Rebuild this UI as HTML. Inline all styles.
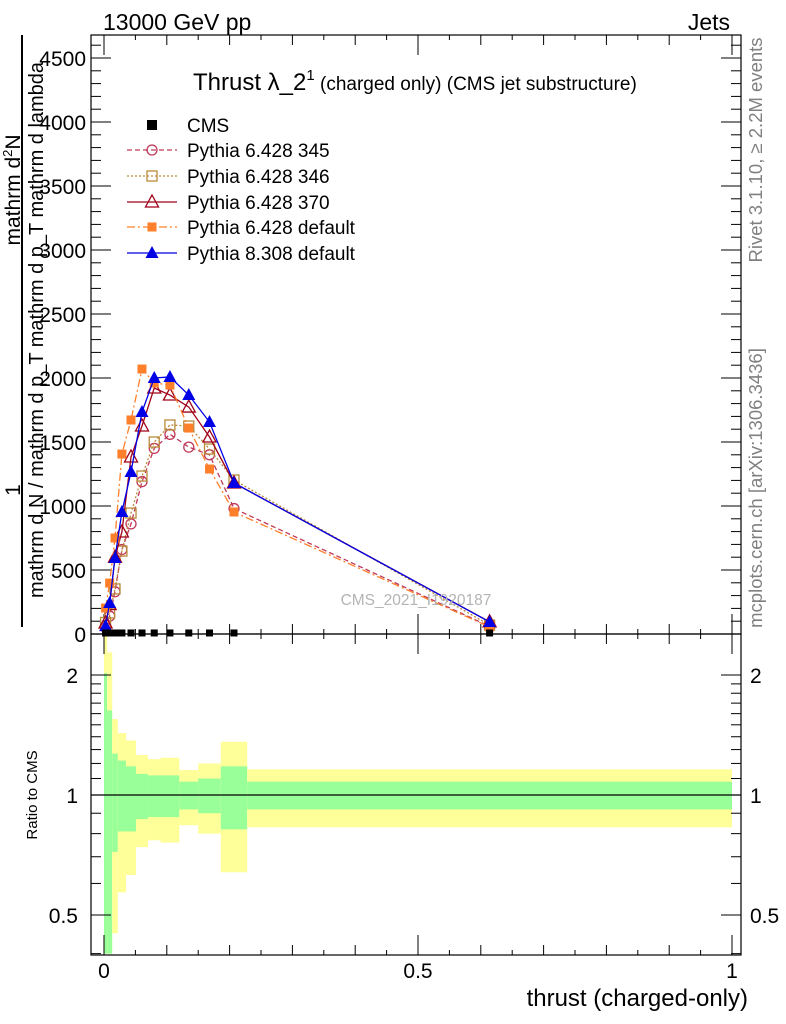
<!DOCTYPE html>
<html><head><meta charset="utf-8"><style>
html,body{margin:0;padding:0;background:#fff}
svg{display:block;font-family:"Liberation Sans",sans-serif}
</style></head><body>
<svg id="chart" width="786" height="1024" viewBox="0 0 786 1024">
<g id="ratio-bands"></g>
<g id="axes"></g>
<g id="series"></g>
<text x="103" y="30" font-size="23">13000 GeV pp</text>
<text x="730" y="30" font-size="23" text-anchor="end">Jets</text>
<text x="193" y="90" font-size="24">Thrust λ_2<tspan font-size="15" dy="-10">1</tspan><tspan font-size="19" dy="10"> (charged only) (CMS jet substructure)</tspan></text>
<text x="416" y="605" font-size="15.5" fill="#b4b4b4" text-anchor="middle">CMS_2021_I1920187</text>
<text transform="translate(762,150) rotate(-90)" font-size="18.5" fill="#808080" text-anchor="middle">Rivet 3.1.10, ≥ 2.2M events</text>
<text transform="translate(762,488) rotate(-90)" font-size="18.5" fill="#808080" text-anchor="middle">mcplots.cern.ch [arXiv:1306.3436]</text>
<text x="748" y="1006" font-size="24" text-anchor="end">thrust (charged-only)</text>
<text transform="translate(37,795) rotate(-90)" font-size="15" text-anchor="middle">Ratio to CMS</text>
<text transform="translate(20,190) rotate(-90)" font-size="21" text-anchor="middle">mathrm d<tspan font-size="13" dy="-8">2</tspan><tspan dy="8">N</tspan></text>
<line x1="22" y1="35" x2="22" y2="627" stroke="#000" stroke-width="2"/>
<text transform="translate(20,490) rotate(-90)" font-size="21" text-anchor="middle">1</text>
<text transform="translate(43,330) rotate(-90)" font-size="20" text-anchor="middle">mathrm d N / mathrm d p_T mathrm d p_T mathrm d lambda</text>
<g id="legend"></g>
</svg>
<script>
// ---- data ----
const binEdges = [0, 0.005, 0.013, 0.022, 0.035, 0.051, 0.07, 0.09, 0.12, 0.15, 0.186, 0.228, 1.0];
const cmsValues = [8, 8, 8, 8, 8, 8, 8, 8, 8, 8, 8, 8];
const p345Values = [50, 140, 330, 660, 860, 1190, 1450, 1560, 1460, 1400, 980, 60];
const p346Values = [90, 164, 352, 648, 945, 1234, 1500, 1633, 1625, 1445, 1203, 70];
const p370Values = [86, 230, 600, 797, 1383, 1625, 1922, 1867, 1773, 1539, 1180, 95];
const p6defValues = [203, 398, 750, 1406, 1672, 2070, 1961, 1945, 1609, 1289, 953, 55];
const p8defValues = [62, 242, 594, 953, 1266, 1734, 2000, 2008, 1867, 1656, 1180, 94];
const yellowUp = [2.52, 2.28, 1.55, 1.43, 1.37, 1.26, 1.23, 1.24, 1.155, 1.2, 1.36, 1.16];
const greenUp = [2.02, 1.63, 1.27, 1.22, 1.18, 1.13, 1.12, 1.12, 1.08, 1.1, 1.18, 1.08];
const greenDown = [0.4, 0.4, 0.72, 0.81, 0.81, 0.87, 0.88, 0.88, 0.92, 0.9, 0.82, 0.92];
const yellowDown = [0.4, 0.4, 0.45, 0.57, 0.63, 0.74, 0.77, 0.76, 0.84, 0.80, 0.64, 0.83];
const yTickLabels = ["0","500","1000","1500","2000","2500","3000","3500","4000","4500"];
const xTickLabels = ["0","0.5","1"];
const ratioTickLabels = ["0.5","1","2"];

// ---- axes functions ----
const L=91,R=741,T=35,MB=634,RB=955;
const X = v => 104 + v*628;
const Y = v => 634 - v*64/500;
const RY = r => 795 - 120*Math.log2(r);
const NS="http://www.w3.org/2000/svg";
function mk(tag, attrs, parent){const e=document.createElementNS(NS,tag);for(const k in attrs)e.setAttribute(k,attrs[k]);parent.appendChild(e);return e;}

const rb=document.getElementById('ratio-bands');
const clampR = y => Math.max(635, Math.min(955, y));
for(let i=0;i<binEdges.length-1;i++){
  const x0=Math.max(X(binEdges[i]),L+12), x1=X(binEdges[i+1]);
  const y1=mk('rect',{x:x0,y:clampR(RY(yellowUp[i])),width:x1-x0,height:clampR(RY(yellowDown[i]))-clampR(RY(yellowUp[i])),fill:'#ffff99'},rb);
  
  
  const g1=mk('rect',{x:x0,y:clampR(RY(greenUp[i])),width:x1-x0,height:clampR(RY(greenDown[i]))-clampR(RY(greenUp[i])),fill:'#99ff99'},rb);
  
  
}
const ax=document.getElementById('axes');
mk('line',{x1:L,y1:RY(1),x2:R,y2:RY(1),stroke:'#000','stroke-width':1.2},ax);
mk('rect',{x:L,y:T,width:R-L,height:MB-T,fill:'none',stroke:'#000','stroke-width':1.2},ax);
mk('rect',{x:L,y:MB,width:R-L,height:RB-MB,fill:'none',stroke:'#000','stroke-width':1.2},ax);
for(let v=0;v<=4600;v+=100){const y=Y(v);if(y<T)continue;const len=v%500===0?20:10;
  mk('line',{x1:L,y1:y,x2:L+len,y2:y,stroke:'#000'},ax);mk('line',{x1:R,y1:y,x2:R-len,y2:y,stroke:'#000'},ax);}
yTickLabels.forEach((s,i)=>{const t=mk('text',{x:86,y:Y(i*500)+8,'font-size':21,'text-anchor':'end'},ax);t.textContent=s;
  
  });
for(let k=0;k<=20;k++){const v=k*0.05,x=X(v);const len=k%10===0?20:(k%2===0?10:5);
  [MB,RB].forEach(b=>{mk('line',{x1:x,y1:b,x2:x,y2:b-len,stroke:'#000'},ax);});
  mk('line',{x1:x,y1:T,x2:x,y2:T+len,stroke:'#000'},ax);mk('line',{x1:x,y1:MB,x2:x,y2:MB+len,stroke:'#000'},ax);}
xTickLabels.forEach((s,i)=>{const t=mk('text',{x:X(i*0.5),y:978,'font-size':21,'text-anchor':'middle'},ax);t.textContent=s;
  
  });
[0.4,0.5,0.6,0.7,0.8,0.9,1,1.1,1.2,1.3,1.4,1.5,1.6,1.7,1.8,1.9,2].forEach(r=>{const y=RY(r);if(y>RB||y<MB)return;
  const len=(r===0.5||r===1||r===2)?20:10;mk('line',{x1:L,y1:y,x2:L+len,y2:y,stroke:'#000'},ax);mk('line',{x1:R,y1:y,x2:R-len,y2:y,stroke:'#000'},ax);});
ratioTickLabels.forEach(s=>{const r=parseFloat(s);
  const t=mk('text',{x:78,y:RY(r)+8,'font-size':21,'text-anchor':'end'},ax);t.textContent=s;
  
  
  const t2=mk('text',{x:750,y:RY(r)+8,'font-size':21},ax);t2.textContent=s;
  
  });

const sg=document.getElementById('series');
const centers=binEdges.slice(0,-1).map((e,i)=>(e+binEdges[i+1])/2);
function marker(type,x,y,color,parent){
  if(type==='circle')return mk('circle',{cx:x,cy:y,r:5,fill:'none',stroke:color,'stroke-width':1.3},parent);
  if(type==='osq')return mk('rect',{x:x-5,y:y-5,width:10,height:10,fill:'none',stroke:color,'stroke-width':1.3},parent);
  if(type==='fsq')return mk('rect',{x:x-4.5,y:y-4.5,width:9,height:9,fill:color},parent);
  if(type==='csq')return mk('rect',{x:x-3.5,y:y-3.5,width:7,height:7,fill:color},parent);
  if(type==='otri')return mk('path',{d:`M${x} ${y-7}L${x+6.5} ${y+5}L${x-6.5} ${y+5}Z`,fill:'none',stroke:color,'stroke-width':1.3},parent);
  if(type==='ftri')return mk('path',{d:`M${x} ${y-7}L${x+6.5} ${y+5}L${x-6.5} ${y+5}Z`,fill:color},parent);
}
const seriesList=[
 {name:'pythia-6428-345',label:'Pythia 6.428 345',vals:p345Values,color:'#c0395a',dash:'5,3',m:'circle'},
 {name:'pythia-6428-346',label:'Pythia 6.428 346',vals:p346Values,color:'#b88a3a',dash:'2,2',m:'osq'},
 {name:'pythia-6428-370',label:'Pythia 6.428 370',vals:p370Values,color:'#a00018',dash:'',m:'otri'},
 {name:'pythia-6428-default',label:'Pythia 6.428 default',vals:p6defValues,color:'#ff7f2a',dash:'8,3,2,3',m:'fsq'},
 {name:'pythia-8308-default',label:'Pythia 8.308 default',vals:p8defValues,color:'#0000e6',dash:'',m:'ftri'}];
seriesList.forEach(s=>{
  const g=mk('g',{},sg);
  
  
  const pts=s.vals.map((v,i)=>X(centers[i])+','+Y(v)).join(' ');
  const pl=mk('polyline',{points:pts,fill:'none',stroke:s.color,'stroke-width':1.3,'stroke-dasharray':s.dash},g);
  
  
  s.vals.forEach((v,i)=>{
    const m=marker(s.m,X(centers[i]),Y(v),s.color,g);
    
    });
});
const cg=mk('g',{},sg);


cmsValues.forEach((v,i)=>{const m=marker('csq',X(centers[i]),Y(v),'#000',cg);
  
  });

const lg=document.getElementById('legend');
const ly=[125,150,176,202,227,253];
const cmsE=mk('g',{},lg);


mk('rect',{x:147,y:ly[0]-5,width:10,height:10,fill:'#000'},cmsE);
const ct=mk('text',{x:187,y:ly[0]+7,'font-size':19},cmsE);ct.textContent='CMS';
seriesList.forEach((s,i)=>{const y=ly[i+1];const g=mk('g',{},lg);
  
  
  mk('line',{x1:127,y1:y,x2:177,y2:y,stroke:s.color,'stroke-width':1.3,'stroke-dasharray':s.dash},g);
  marker(s.m,152,y,s.color,g);
  const t=mk('text',{x:187,y:y+7,'font-size':19},g);t.textContent=s.label;});
</script>
</body></html>
